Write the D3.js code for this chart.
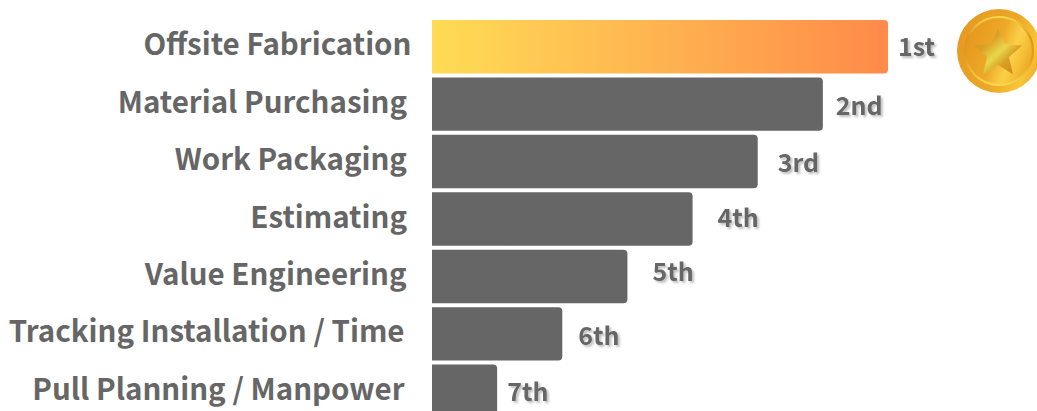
<!DOCTYPE html>
<html><head><meta charset="utf-8">
<script src="https://cdn.jsdelivr.net/npm/d3@7"></script>
<style>
html,body{margin:0;padding:0;background:#fff;overflow:hidden}
svg{display:block}
text{font-family:"Noto Sans CJK SC","Noto Sans",sans-serif;font-weight:700;fill:#666}
</style></head><body>
<svg id="c" width="1037" height="411"></svg>
<script>
const categories=["Offsite Fabrication","Material Purchasing","Work Packaging","Estimating","Value Engineering","Tracking Installation / Time","Pull Planning / Manpower"];
const scores=[7,6,5,4,3,2,1];
const rankLabels=["1st","2nd","3rd","4th","5th","6th","7th"];
const categoryNudgeX=[5.5,1,1,1,0.5,-1.5,-1.5];
const rankNudgeX=[10,13,20,25,25,16,10];
const rankNudgeY=[-2,0,-1,-3,-6,0,-1];

const svg=d3.select("#c");
const defs=svg.append("defs");
const lin=(id,x1,y1,x2,y2,stops)=>{const g=defs.append("linearGradient").attr("id",id).attr("x1",x1).attr("y1",y1).attr("x2",x2).attr("y2",y2);
 stops.forEach(s=>g.append("stop").attr("offset",s[0]).attr("stop-color",s[1]));};
lin("top",0,0,1,0,[[0,"#ffdc55"],[1,"#ff8a4a"]]);
lin("rim",0,.3,1,.7,[[0,"#e59a22"],[.55,"#eca728"],[.85,"#f8c638"],[1,"#eeaa24"]]);
lin("ring",0,0,0,1,[[0,"#f4d84c"],[.3,"#e2941c"],[.6,"#e59c1e"],[1,"#f5da4e"]]);
lin("face",0,.2,1,.6,[[0,"#e5951c"],[.5,"#eeaa28"],[.72,"#fbd048"],[.85,"#f5c038"],[1,"#eea826"]]);
lin("star",0,0,1,1,[[0,"#d38c16"],[.32,"#dca028"],[.52,"#e8d84c"],[.68,"#dba026"],[1,"#ce840f"]]);
const sh=defs.append("filter").attr("id","sh").attr("x","-20%").attr("y","-20%").attr("width","140%").attr("height","140%");
sh.append("feDropShadow").attr("dx",2).attr("dy",2).attr("stdDeviation",.8).attr("flood-color","#000").attr("flood-opacity",.25);

const x=d3.scaleLinear().domain([0,7]).range([432,888]);
const y=d3.scaleBand().domain(categories).range([20,418]).paddingInner(.07).paddingOuter(0);

svg.selectAll("path.bar").data(categories).join("path").attr("class","bar")
 .attr("d",(c,i)=>{const x0=x(0),x1=x(scores[i]),y0=y(c),h=y.bandwidth(),r=4;
   return `M${x0},${y0}H${x1-r}Q${x1},${y0} ${x1},${y0+r}V${y0+h-r}Q${x1},${y0+h} ${x1-r},${y0+h}H${x0}Z`;})
 .attr("fill",(c,i)=>i===0?"url(#top)":"#666");

svg.selectAll("text.cat").data(categories).join("text").attr("class","cat")
 .attr("x",(c,i)=>406+categoryNudgeX[i]).attr("y",c=>y(c)+y.bandwidth()/2-4.5)
 .attr("text-anchor","end").attr("dominant-baseline","central").attr("font-size",29.5).text(c=>c);

svg.selectAll("text.rank").data(rankLabels).join("text").attr("class","rank")
 .attr("x",(r,i)=>x(scores[i])+rankNudgeX[i]).attr("y",(r,i)=>y(categories[i])+y.bandwidth()/2+rankNudgeY[i])
 .attr("dominant-baseline","central").attr("font-size",25).attr("filter","url(#sh)").text(r=>r);

const medal=svg.append("g").attr("transform","translate(999,51)");
medal.append("circle").attr("r",42).attr("fill","url(#rim)");
medal.append("circle").attr("r",34).attr("fill","url(#face)").attr("stroke","url(#ring)").attr("stroke-width",2.2);
const starPts=d3.range(10).map(i=>{const a=-Math.PI/2+i*Math.PI/5,r=i%2?11.5:25.5;return [r*Math.cos(a)-1,2.5+r*Math.sin(a)];});
medal.append("polygon").attr("points",starPts.join(" ")).attr("fill","url(#star)");
</script>
</body></html>
